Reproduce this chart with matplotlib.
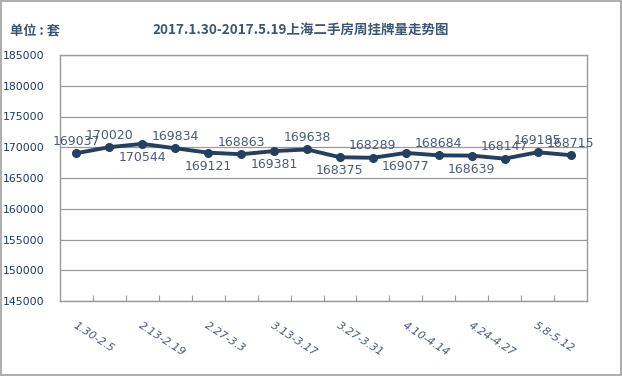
import matplotlib.pyplot as plt
import matplotlib.patches as mpatches

plt.rcParams['font.family'] = ['Noto Sans CJK SC', 'DejaVu Sans']

weeks = ['1.30-2.5', '2.6-2.12', '2.13-2.19', '2.20-2.26', '2.27-3.3', '3.6-3.10',
         '3.13-3.17', '3.20-3.24', '3.27-3.31', '4.3-4.7', '4.10-4.14', '4.17-4.21',
         '4.24-4.27', '5.1-5.5', '5.8-5.12', '5.15-5.19']
listings = [169037, 170020, 170544, 169834, 169121, 168863, 169381, 169638,
            168375, 168289, 169077, 168684, 168639, 168147, 169185, 168715]
# label above (True) or below (False) the point
label_above = [True, True, False, True, False, True, False, True,
               False, True, False, True, False, True, True, True]
y_ticks = list(range(145000, 185001, 5000))

line_color = '#243F60'
text_color = '#1F3864'
label_color = '#4A5B73'
grid_color = '#9A9A9A'

fig = plt.figure(figsize=(6.22, 3.76), dpi=100)
ax = fig.add_axes([60 / 622, 1 - 301 / 376, 527 / 622, 246 / 376])

x = list(range(len(listings)))
ax.plot(x, listings, color=line_color, lw=2.8, marker='o', ms=5.5, zorder=3)

for i, v in enumerate(listings):
    dy, va = (4, 'bottom') if label_above[i] else (-5, 'top')
    ax.annotate(str(v), (i, v), xytext=(0, dy), textcoords='offset points',
                ha='center', va=va, fontsize=9, color=label_color,
                family='DejaVu Sans')

ax.set_xlim(-0.5, len(listings) - 0.5)
ax.set_ylim(145000, 185000)
ax.set_yticks(y_ticks)
ax.set_yticklabels([str(t) for t in y_ticks], fontsize=7.8, color=text_color,
                   family='DejaVu Sans')
ax.tick_params(axis='y', length=0, pad=11)

# tick marks between categories, labels on every other week
ax.set_xticks([i + 0.5 for i in range(len(listings) - 1)])
ax.set_xticklabels([])
ax.tick_params(axis='x', direction='in', length=4, color=grid_color)
for i in range(0, len(weeks), 2):
    ax.annotate(weeks[i], (i, 145000), xytext=(0, -14), textcoords='offset points',
                rotation=-33, rotation_mode='anchor', ha='left', va='top',
                fontsize=8, color=label_color, family='DejaVu Sans',
                style='italic', annotation_clip=False)

ax.grid(axis='y', color=grid_color, lw=0.9)
for s in ax.spines.values():
    s.set_color(grid_color)
    s.set_linewidth(1)

fig.text(10 / 622, 1 - 30 / 376, '单位 : 套', fontsize=9.5, fontweight='bold',
         color='#3B5573', va='center', ha='left')
fig.text(301 / 622, 1 - 30 / 376, '2017.1.30-2017.5.19上海二手房周挂牌量走势图',
         fontsize=9.7, fontweight='bold', color='#3B5573', va='center', ha='center')

fig.patches.append(mpatches.Rectangle((1 / 622, 1 / 376), 620 / 622, 374 / 376,
                                      transform=fig.transFigure, fill=False,
                                      edgecolor='#A0A0A0', lw=1.2))

fig.savefig('out.png', dpi=100)
